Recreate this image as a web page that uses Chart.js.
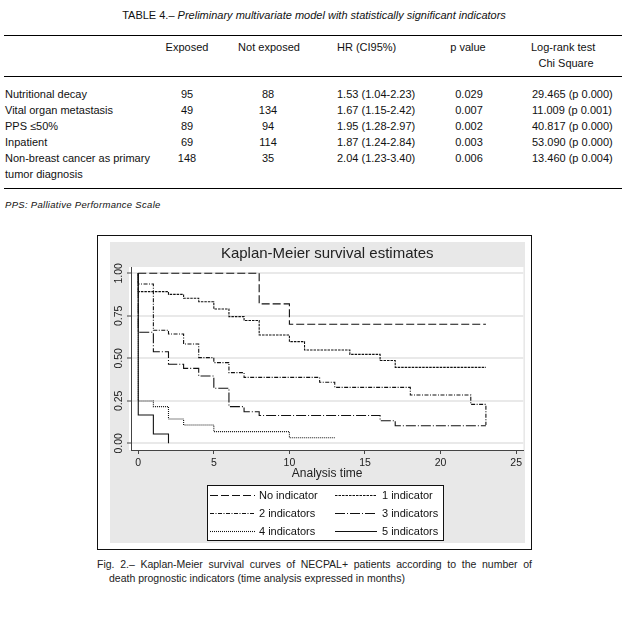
<!DOCTYPE html>
<html>
<head>
<meta charset="utf-8">
<script src="https://cdn.jsdelivr.net/npm/chart.js@4.4.0/dist/chart.umd.min.js"></script>
<style>
  body { margin: 0; width: 628px; height: 623px; background: #fff; position: relative; overflow: hidden;
         font-family: "Liberation Sans", Arial, sans-serif; color: #111; }
  .t { position: absolute; font-size: 11px; line-height: 13px; white-space: nowrap; }
  .c { transform: translateX(-50%); }
  .rule { position: absolute; left: 4px; width: 618px; height: 1px; background: #000; }
  #frame { position: absolute; left: 97px; top: 235px; width: 435px; height: 315px;
           border: 1.5px solid #111; box-sizing: border-box; }
  #plot { position: absolute; left: 110px; top: 242px; width: 415px; height: 301px; background: #e8e8e8; }
  .cap { position: absolute; font-size: 10.5px; line-height: 13px; color: #222; }
</style>
</head>
<body>
<div class="t c" style="left:314px; top:9px;">TABLE 4.– <i>Preliminary multivariate model with statistically significant indicators</i></div>
<div class="rule" style="top:35px;"></div>
<div class="rule" style="top:76px;"></div>
<div class="rule" style="top:188px;"></div>
<div id="table"></div>
<div class="t" style="left:5px; top:198px; font-size:9.5px; letter-spacing:0.3px;"><i>PPS: Palliative Performance Scale</i></div>

<div id="frame"></div>
<div id="plot"><canvas id="km"></canvas></div>

<div class="cap" style="left:97px; top:558px; width:435px; text-align:justify; text-align-last:justify;">Fig. 2.– Kaplan-Meier survival curves of NECPAL+ patients according to the number of</div>
<div class="cap" style="left:109px; top:572px;">death prognostic indicators (time analysis expressed in months)</div>

<script>
// table 4
const indicators = ['Nutritional decay', 'Vital organ metastasis', 'PPS \u226450%', 'Inpatient', 'Non-breast cancer as primary'];
const exposed = ['95', '49', '89', '69', '148'];
const notExposed = ['88', '134', '94', '114', '35'];
const hazardRatio = ['1.53 (1.04-2.23)', '1.67 (1.15-2.42)', '1.95 (1.28-2.97)', '1.87 (1.24-2.84)', '2.04 (1.23-3.40)'];
const pValues = ['0.029', '0.007', '0.002', '0.003', '0.006'];
const logRank = ['29.465 (p 0.000)', '11.009 (p 0.001)', '40.817 (p 0.000)', '53.090 (p 0.000)', '13.460 (p 0.004)'];

// figure 2: time (months) and survival for each step
const groupNames = ['No indicator', '1 indicator', '2 indicators', '3 indicators', '4 indicators', '5 indicators'];
const noIndTime = [0, 8, 10, 23];
const noIndSurv = [1, 0.82, 0.70, 0.70];
const ind1Time = [0, 0, 2, 3, 4, 5, 6, 7, 8, 10, 11, 14, 16, 17, 23];
const ind1Surv = [1, 0.892, 0.876, 0.853, 0.833, 0.790, 0.745, 0.722, 0.637, 0.598, 0.549, 0.523, 0.487, 0.447, 0.447];
const ind2Time = [0, 0, 1, 2, 3, 4, 5, 6, 7, 12, 13, 18, 22, 23];
const ind2Surv = [1, 0.937, 0.665, 0.643, 0.584, 0.504, 0.475, 0.416, 0.388, 0.359, 0.329, 0.284, 0.229, 0.108];
const ind3Time = [0, 0, 1, 2, 3, 4, 5, 6, 7, 8, 16, 17, 23];
const ind3Surv = [1, 0.653, 0.539, 0.465, 0.441, 0.396, 0.324, 0.216, 0.186, 0.164, 0.133, 0.104, 0.104];
const ind4Time = [0, 0, 1, 2, 3, 5, 10, 13];
const ind4Surv = [1, 0.249, 0.216, 0.143, 0.108, 0.069, 0.033, 0.033];
const ind5Time = [0, 0, 1, 2];
const ind5Surv = [1, 0.167, 0.055, 0];

const xTicks = [0, 5, 10, 15, 20, 25];
const yTicks = [0, 0.25, 0.5, 0.75, 1];

function cell(text, x, y, centered) {
    const d = document.createElement('div');
    d.className = centered ? 't c' : 't';
    d.style.left = x + 'px';
    d.style.top = (y - 6.5) + 'px';
    d.textContent = text;
    document.getElementById('table').appendChild(d);
}

cell('Exposed', 187, 47, true);
cell('Not exposed', 269, 47, true);
cell('HR (CI95%)', 337, 47, false);
cell('p value', 468, 47, true);
cell('Log-rank test', 531, 47, false);
cell('Chi Square', 566, 63, true);
indicators.forEach((name, i) => {
    const y = 94 + i * 16;
    cell(name, 5, y, false);
    cell(exposed[i], 187, y, true);
    cell(notExposed[i], 268, y, true);
    cell(hazardRatio[i], 337, y, false);
    cell(pValues[i], 469, y, true);
    cell(logRank[i], 532, y, false);
});
cell('tumor diagnosis', 5, 174, false);

const toPoints = (t, s) => t.map((v, i) => ({ x: v, y: s[i] }));
const series = [
    toPoints(noIndTime, noIndSurv), toPoints(ind1Time, ind1Surv), toPoints(ind2Time, ind2Surv),
    toPoints(ind3Time, ind3Surv), toPoints(ind4Time, ind4Surv), toPoints(ind5Time, ind5Surv)
];
const dashes = [[8, 3], [2.5, 1], [4, 1.5, 1, 1.5], [10, 2, 1, 2], [1, 1], []];

// white plot region under the grid
const plotRegion = {
    id: 'plotRegion',
    beforeDraw(chart) {
        const a = chart.chartArea, ctx = chart.ctx;
        ctx.save();
        ctx.fillStyle = '#fff';
        ctx.fillRect(a.left - 2, a.top, a.right - a.left + 2, a.bottom - a.top);
        ctx.restore();
    }
};

// stata style boxed legend, two columns
const kmLegend = {
    id: 'kmLegend',
    afterDraw(chart) {
        const ctx = chart.ctx;
        ctx.save();
        ctx.fillStyle = '#fff';
        ctx.fillRect(97, 243, 237, 56);
        ctx.strokeStyle = '#111';
        ctx.lineWidth = 1;
        ctx.strokeRect(97.5, 243.5, 236, 55);
        ctx.font = '11px "Liberation Sans", Arial, sans-serif';
        ctx.textBaseline = 'middle';
        chart.data.datasets.forEach((ds, i) => {
            const col = i % 2, row = Math.floor(i / 2);
            const y = 253 + row * 18;
            const x0 = col ? 225 : 100, x1 = col ? 267 : 145;
            ctx.beginPath();
            ctx.setLineDash(ds.borderDash);
            ctx.lineWidth = ds.borderWidth;
            ctx.strokeStyle = ds.borderColor;
            ctx.moveTo(x0, y + 0.5);
            ctx.lineTo(x1, y + 0.5);
            ctx.stroke();
            ctx.setLineDash([]);
            ctx.fillStyle = '#111';
            ctx.fillText(ds.label, col ? 272 : 149, y + 1);
        });
        ctx.restore();
    }
};

new Chart(document.getElementById('km'), {
    type: 'line',
    data: {
        datasets: series.map((pts, i) => ({
            label: groupNames[i],
            data: pts,
            stepped: true,
            borderColor: '#111',
            borderWidth: 1.1,
            borderDash: dashes[i],
            pointRadius: 0,
            fill: false
        }))
    },
    options: {
        responsive: true,
        maintainAspectRatio: false,
        animation: false,
        layout: { padding: { left: 0, right: 1, top: 0, bottom: 0 } },
        plugins: {
            legend: { display: false },
            tooltip: { enabled: false },
            title: {
                display: true,
                fullSize: false,
                text: 'Kaplan-Meier survival estimates',
                color: '#222',
                font: { family: '"Liberation Sans", Arial, sans-serif', size: 15, weight: 'normal', lineHeight: 1.2 },
                padding: { top: 3, bottom: 4 }
            }
        },
        scales: {
            x: {
                type: 'linear',
                min: -0.48,
                max: 25.48,
                afterBuildTicks: s => { s.ticks = xTicks.map(v => ({ value: v })); },
                afterFit: s => { s.height = 93; },
                grid: { drawOnChartArea: false, tickLength: 4, color: '#444' },
                border: { color: '#444', width: 1 },
                ticks: { color: '#222', padding: 3, maxRotation: 0,
                         font: { family: '"Liberation Sans", Arial, sans-serif', size: 10.5 } },
                title: { display: true, text: 'Analysis time', color: '#222',
                         font: { family: '"Liberation Sans", Arial, sans-serif', size: 12 },
                         padding: { top: 0, bottom: 62 } }
            },
            y: {
                min: -0.039,
                max: 1.037,
                afterBuildTicks: s => { s.ticks = yTicks.map(v => ({ value: v })); },
                afterFit: s => { s.width = 21; },
                grid: { color: '#e9e9e9', lineWidth: 2, tickLength: 4, tickColor: '#444', tickWidth: 1 },
                border: { color: '#444', width: 1 },
                ticks: { color: '#222', padding: -2, minRotation: 90, maxRotation: 90, crossAlign: 'center',
                         callback: v => v.toFixed(2),
                         font: { family: '"Liberation Sans", Arial, sans-serif', size: 10.5 } }
            }
        }
    },
    plugins: [plotRegion, kmLegend]
});
</script>
</body>
</html>
